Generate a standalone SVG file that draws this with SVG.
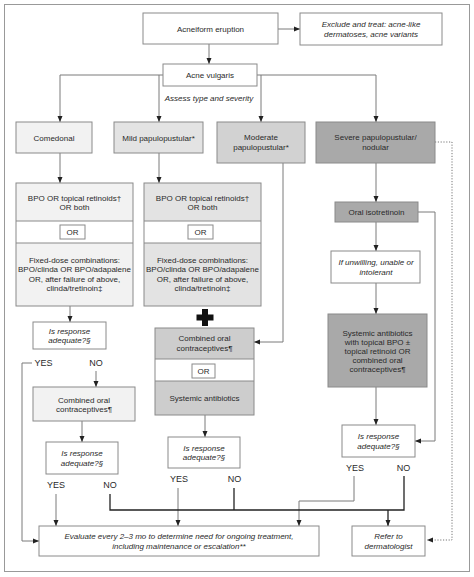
<svg xmlns="http://www.w3.org/2000/svg" width="474" height="577" viewBox="0 0 474 577">
<style>
text{font-family:"Liberation Sans",Arial,sans-serif;font-size:8px;fill:#2a2a2a;text-anchor:middle}
.i{font-style:italic}
.b{stroke:#8a8a8a;stroke-width:1}
.w{fill:#ffffff}
.c1{fill:#f2f2f2}
.c2{fill:#e3e3e3}
.c3{fill:#d2d2d2}
.c3b{fill:#cdcdcd}
.c4{fill:#a9a9a9}
.ln{fill:none;stroke:#7a7a7a;stroke-width:1}
.dk{fill:none;stroke:#222;stroke-width:1.3}
.dot{fill:none;stroke:#777;stroke-width:1;stroke-dasharray:1.2 1.6}
.yn{font-size:9px}
</style>
<defs>
<marker id="a" viewBox="0 0 6 6" markerWidth="6" markerHeight="6" refX="6" refY="3" orient="auto" markerUnits="userSpaceOnUse"><path d="M0,0.5 L6,3 L0,5.5 z" fill="#222"/></marker>
</defs>
<rect x="4.5" y="4.5" width="465" height="567" fill="#fff" stroke="#999" stroke-width="1"/>

<g id="connectors">
<path class="ln" d="M209,44 V64" marker-end="url(#a)"/>
<path class="ln" d="M278,29 H300" marker-end="url(#a)"/>
<path class="ln" d="M163,75 H60 V122" marker-end="url(#a)"/>
<path class="ln" d="M159,75 V122" marker-end="url(#a)"/>
<path class="ln" d="M257,75 H376 V122" marker-end="url(#a)"/>
<path class="ln" d="M261,75 V122" marker-end="url(#a)"/>
<path class="ln" d="M60,153 V183" marker-end="url(#a)"/>
<path class="ln" d="M159,153 V183" marker-end="url(#a)"/>
<path class="ln" d="M70,306 V322" marker-end="url(#a)"/>
<path class="ln" d="M32,363 H22 V541 H39" marker-end="url(#a)"/>
<path class="ln" d="M96,371 V387" marker-end="url(#a)"/>
<path class="ln" d="M82,421 V442" marker-end="url(#a)"/>
<path class="ln" d="M56,494 V526" marker-end="url(#a)"/>
<path class="ln" d="M283,163 V342 H254" marker-end="url(#a)"/>
<path class="ln" d="M205,415 V437" marker-end="url(#a)"/>
<path class="ln" d="M178,488 V526" marker-end="url(#a)"/>
<path class="ln" d="M376,163 V202" marker-end="url(#a)"/>
<path class="ln" d="M418,212 H435 V441 H415" marker-end="url(#a)"/>
<path class="ln" d="M376,222 V251" marker-end="url(#a)"/>
<path class="ln" d="M376,283 V314" marker-end="url(#a)"/>
<path class="ln" d="M376,387 V425" marker-end="url(#a)"/>
<path class="ln" d="M354,476 V501 H299 V526" marker-end="url(#a)"/>
<path class="dk" d="M110,494 V510 H404 V476"/>
<path class="dk" d="M234,488 V510"/>
<path class="dk" d="M388,510 V526" marker-end="url(#a)"/>
<path class="dot" d="M435,142 H452 V540 H427" marker-end="url(#a)"/>
</g>

<g id="acneiform"><rect class="b w" x="143" y="13" width="135" height="31"/><text x="210.5" y="31.5">Acneiform eruption</text></g>
<g id="exclude"><rect class="b w" x="300" y="13" width="142" height="32"/><text class="i" x="371" y="27">Exclude and treat: acne-like</text><text class="i" x="371" y="37">dermatoses, acne variants</text></g>
<g id="vulgaris"><rect class="b w" x="163" y="64" width="94" height="22"/><text x="210" y="78">Acne vulgaris</text></g>
<g id="assess"><text class="i" x="209" y="101">Assess type and severity</text></g>

<g id="comedonal"><rect class="b c1" x="16" y="122" width="76" height="31"/><text x="54" y="140.5">Comedonal</text></g>
<g id="mild"><rect class="b c2" x="114" y="122" width="89" height="31"/><text x="158.5" y="140.5">Mild papulopustular*</text></g>
<g id="moderate"><rect class="b c3" x="217" y="122" width="88" height="41"/><text x="261" y="140">Moderate</text><text x="261" y="150">papulopustular*</text></g>
<g id="severe"><rect class="b c4" x="316" y="122" width="119" height="41"/><text x="375.5" y="140">Severe papulopustular/</text><text x="375.5" y="150">nodular</text></g>

<g id="comedonal-tx">
<rect class="c1" x="16" y="183" width="117" height="38"/>
<rect class="w" x="16" y="221" width="117" height="22"/>
<rect class="c1" x="16" y="243" width="117" height="63"/>
<path class="b" fill="none" d="M16,221 H133 M16,243 H133"/>
<rect class="b" fill="none" x="16" y="183" width="117" height="123"/>
<rect class="b w" x="60" y="225" width="25" height="14"/>
<text x="72.5" y="235">OR</text>
<text x="74.5" y="200.5">BPO OR topical retinoids†</text><text x="74.5" y="210">OR both</text>
<text x="74.5" y="262.5">Fixed-dose combinations:</text><text x="74.5" y="272">BPO/clinda OR BPO/adapalene</text><text x="74.5" y="281.5">OR, after failure of above,</text><text x="74.5" y="291">clinda/tretinoin‡</text>
</g>

<g id="mild-tx">
<rect class="c2" x="144" y="183" width="117" height="38"/>
<rect class="w" x="144" y="221" width="117" height="22"/>
<rect class="c2" x="144" y="243" width="117" height="63"/>
<path class="b" fill="none" d="M144,221 H261 M144,243 H261"/>
<rect class="b" fill="none" x="144" y="183" width="117" height="123"/>
<rect class="b w" x="188" y="225" width="25" height="14"/>
<text x="200.5" y="235">OR</text>
<text x="202.5" y="200.5">BPO OR topical retinoids†</text><text x="202.5" y="210">OR both</text>
<text x="202.5" y="262.5">Fixed-dose combinations:</text><text x="202.5" y="272">BPO/clinda OR BPO/adapalene</text><text x="202.5" y="281.5">OR, after failure of above,</text><text x="202.5" y="291">clinda/tretinoin‡</text>
</g>

<g id="plus"><path d="M202,309 H208 V314.5 H213.5 V320.5 H208 V326 H202 V320.5 H196.5 V314.5 H202 z" fill="#111"/></g>

<g id="moderate-tx">
<rect class="c3b" x="155" y="328" width="99" height="31"/>
<rect class="w" x="155" y="359" width="99" height="22"/>
<rect class="c3b" x="155" y="381" width="99" height="34"/>
<path class="b" fill="none" d="M155,359 H254 M155,381 H254"/>
<rect class="b" fill="none" x="155" y="328" width="99" height="87"/>
<rect class="b w" x="192" y="364" width="23" height="14"/>
<text x="203.5" y="374">OR</text>
<text x="204.5" y="341">Combined oral</text><text x="204.5" y="350.5">contraceptives¶</text>
<text x="204.5" y="401">Systemic antibiotics</text>
</g>

<g id="response1"><rect class="b w" x="33" y="322" width="73" height="27"/><text class="i" x="69.5" y="333.5">Is response</text><text class="i" x="69.5" y="343">adequate?§</text></g>
<g id="yn1"><text class="yn" x="43.5" y="366">YES</text><text class="yn" x="96" y="366">NO</text></g>
<g id="coc-comedonal"><rect class="b c1" x="33" y="387" width="102" height="34"/><text x="84" y="402.5">Combined oral</text><text x="84" y="412">contraceptives¶</text></g>
<g id="response2"><rect class="b w" x="46" y="442" width="72" height="32"/><text class="i" x="82" y="456">Is response</text><text class="i" x="82" y="465.5">adequate?§</text></g>
<g id="yn2"><text class="yn" x="56" y="488">YES</text><text class="yn" x="110" y="488">NO</text></g>

<g id="response3"><rect class="b w" x="168" y="437" width="72" height="31"/><text class="i" x="204" y="450.5">Is response</text><text class="i" x="204" y="460">adequate?§</text></g>
<g id="yn3"><text class="yn" x="179" y="482">YES</text><text class="yn" x="234.5" y="482">NO</text></g>

<g id="isotretinoin"><rect class="b c4" x="335" y="202" width="83" height="20"/><text x="376.5" y="215">Oral isotretinoin</text></g>
<g id="unwilling"><rect class="b w" x="331" y="251" width="89" height="32"/><text class="i" x="376" y="265">If unwilling, unable or</text><text class="i" x="376" y="274.5">intolerant</text></g>
<g id="systemic-severe"><rect class="b c4" x="328" y="314" width="99" height="73"/>
<text x="377.5" y="336">Systemic antibiotics</text><text x="377.5" y="345">with topical BPO ±</text><text x="377.5" y="354">topical retinoid OR</text><text x="377.5" y="363">combined oral</text><text x="377.5" y="372">contraceptives¶</text></g>
<g id="response4"><rect class="b w" x="342" y="425" width="73" height="32"/><text class="i" x="378.5" y="439">Is response</text><text class="i" x="378.5" y="448.5">adequate?§</text></g>
<g id="yn4"><text class="yn" x="355" y="471">YES</text><text class="yn" x="403.5" y="471">NO</text></g>

<g id="evaluate"><rect class="b w" x="39" y="526" width="280" height="30"/><text class="i" x="179" y="539">Evaluate every 2–3 mo to determine need for ongoing treatment,</text><text class="i" x="179" y="549">including maintenance or escalation**</text></g>
<g id="refer"><rect class="b w" x="352" y="526" width="73" height="30"/><text class="i" x="388.5" y="539">Refer to</text><text class="i" x="388.5" y="549">dermatologist</text></g>
</svg>
